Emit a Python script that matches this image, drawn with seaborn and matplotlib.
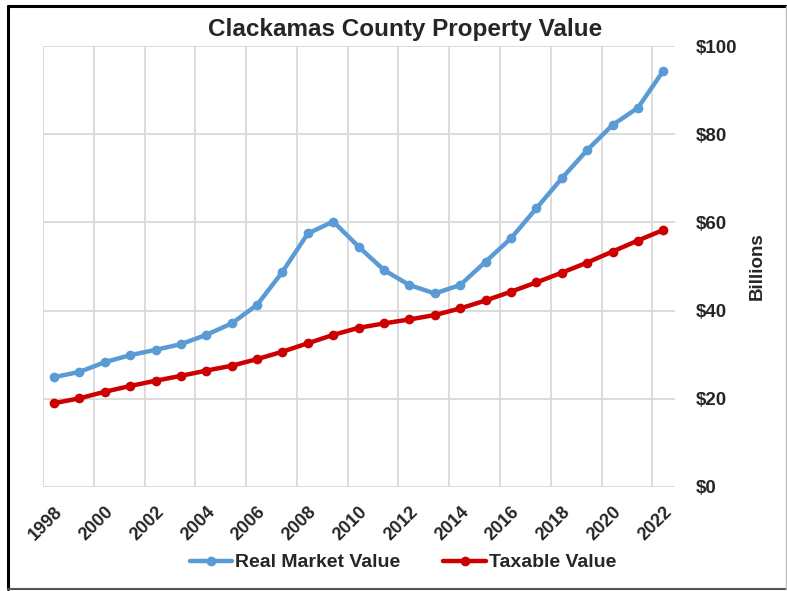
import numpy as np
import pandas as pd
import matplotlib
matplotlib.use("Agg")
import matplotlib.pyplot as plt
from matplotlib.lines import Line2D
import seaborn as sns

# Assessed property value in Clackamas County, billions of dollars
years = list(range(1998, 2023))
real_market_value = [24.9, 26.1, 28.3, 29.9, 31.1, 32.4, 34.5, 37.1, 41.3, 48.8,
                     57.5, 60.2, 54.5, 49.2, 45.8, 43.9, 45.8, 51.1, 56.4, 63.2,
                     70.0, 76.4, 82.1, 86.0, 94.4]
taxable_value = [19.0, 20.1, 21.6, 22.9, 24.1, 25.2, 26.4, 27.5, 29.0, 30.7,
                 32.6, 34.5, 36.1, 37.1, 38.0, 39.0, 40.5, 42.3, 44.3, 46.4,
                 48.6, 50.9, 53.4, 55.9, 58.3]
series_names = ["Real Market Value", "Taxable Value"]
y_ticks = [0, 20, 40, 60, 80, 100]
x_ticks = list(range(1998, 2023, 2))

df = pd.DataFrame({
    "Year": years * 2,
    "Value": real_market_value + taxable_value,
    "Series": [series_names[0]] * len(years) + [series_names[1]] * len(years),
})

sns.set_theme(style="white")
plt.rcParams["font.family"] = ["Liberation Sans", "DejaVu Sans"]

fig = plt.figure(figsize=(7.87, 5.91), dpi=100)
fig.patch.set_facecolor("white")
ax = fig.add_axes([0.0546, 0.176, 0.8034, 0.746])

palette = {series_names[0]: "#5B9BD5", series_names[1]: "#CC0000"}
sns.lineplot(data=df, x="Year", y="Value", hue="Series", palette=palette,
             marker="o", markersize=7, linewidth=3.2, markeredgewidth=0,
             ax=ax, legend=False, zorder=3)

# category-style axis: half a slot of padding on each side
ax.set_xlim(1997.567, 2022.47)
ax.set_ylim(0, 100)

# vertical gridlines sit just left of each labelled year
grid_color = "#D9D9D9"
for yr in x_ticks:
    ax.axvline(yr - 0.433, color=grid_color, linewidth=1.3, zorder=1)
for v in y_ticks:
    ax.axhline(v, color=grid_color, linewidth=1.3, zorder=1)

for s in ax.spines.values():
    s.set_visible(False)

ax.set_xticks(x_ticks)
ax.set_xticklabels([str(y) for y in x_ticks], rotation=45, ha="right", va="top",
                   rotation_mode="anchor", fontsize=13, fontweight="bold")
ax.tick_params(axis="x", length=0, pad=12)

ax.yaxis.tick_right()
ax.yaxis.set_label_position("right")
ax.set_yticks(y_ticks)
ax.set_yticklabels([f"${v}" for v in y_ticks], fontsize=13.5, fontweight="bold")
ax.tick_params(axis="y", length=0, pad=15)
ax.set_ylabel("Billions", fontsize=13.5, fontweight="bold", labelpad=8)
ax.set_xlabel("")

fig.text(0.515, 0.950, "Clackamas County Property Value", ha="center", va="center",
         fontsize=17.5, fontweight="bold")

handles = [Line2D([0], [0], color=palette[n], linewidth=3.2, marker="o",
                  markersize=7, markeredgewidth=0) for n in series_names]
fig.legend(handles, series_names, loc="center", bbox_to_anchor=(0.512, 0.048),
           ncol=2, frameon=False, handlelength=2.2, handletextpad=0.15,
           columnspacing=2.2, prop={"size": 14, "weight": "bold"})

# outer frame
fig.add_artist(Line2D([0.0105, 0.0105], [0.004, 0.99], color="black", linewidth=2.2,
                      transform=fig.transFigure))
fig.add_artist(Line2D([0.0105, 1.0], [0.99, 0.99], color="black", linewidth=2.2,
                      transform=fig.transFigure))
fig.add_artist(Line2D([0.0105, 1.0], [0.004, 0.004], color="#555555", linewidth=1.5,
                      transform=fig.transFigure))
fig.add_artist(Line2D([0.999, 0.999], [0.004, 0.99], color="#BBBBBB", linewidth=1.0,
                      transform=fig.transFigure))

fig.savefig("out.png", dpi=100, facecolor="white")
